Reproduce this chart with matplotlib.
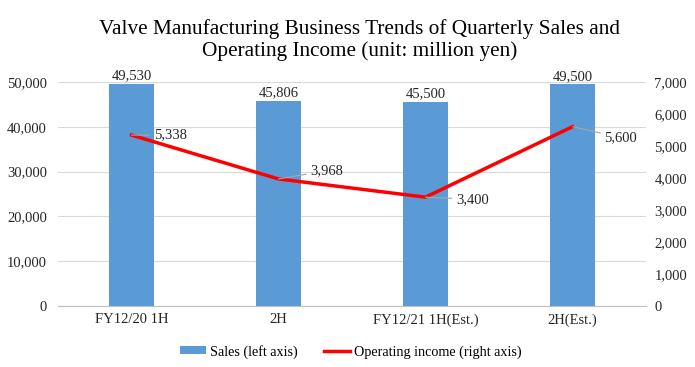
import matplotlib.pyplot as plt
import numpy as np

# data
periods = ["FY12/20 1H", "2H", "FY12/21 1H(Est.)", "2H(Est.)"]
sales = [49530, 45806, 45500, 49500]
op_income = [5338, 3968, 3400, 5600]
# label offsets (points) for operating income labels
inc_offsets = [(16, 0), (23, 6), (22, -1.5), (23, -8)]

plt.rcParams['font.family'] = ['Liberation Serif', 'DejaVu Serif']

fig = plt.figure(figsize=(6.95, 3.67), dpi=100)
ax = fig.add_axes([0.0835, 0.166, 0.846, 0.611])
ax2 = ax.twinx()

x = np.arange(len(periods))
bars = ax.bar(x, sales, width=0.31, color='#5B9BD5', zorder=2, label='Sales (left axis)')
ax.set_ylim(0, 50000)
ax.set_xlim(-0.5, len(periods) - 0.5)
ax.set_yticks(np.arange(0, 50001, 10000))
ax.set_yticklabels([f"{v:,}" for v in range(0, 50001, 10000)])
ax.set_xticks(x)
ax.set_xticklabels(periods)
ax.grid(axis='y', color='#D9D9D9', linewidth=0.8, zorder=0)
ax.set_axisbelow(True)
for s in ['top', 'right', 'left']:
    ax.spines[s].set_visible(False)
ax.spines['bottom'].set_color('#BFBFBF')
ax.tick_params(axis='both', length=0, labelsize=10.5, colors='#262626')
ax.tick_params(axis='y', pad=8)
ax.tick_params(axis='x', pad=5)

for xi, v in zip(x, sales):
    ax.annotate(f"{v:,}", (xi, v), xytext=(0, 1), textcoords='offset points',
                ha='center', va='bottom', fontsize=10.5, color='#262626')

line, = ax2.plot(x, op_income, color='#FF0000', linewidth=2.5, zorder=3,
                 label='Operating income (right axis)')
ax2.set_ylim(0, 7000)
ax2.set_yticks(np.arange(0, 7001, 1000))
ax2.set_yticklabels([f"{v:,}" for v in range(0, 7001, 1000)])
for s in ['top', 'right', 'left', 'bottom']:
    ax2.spines[s].set_visible(False)
ax2.tick_params(axis='y', length=0, labelsize=10.5, colors='#262626', pad=6)

for xi, v, off in zip(x, op_income, inc_offsets):
    ax2.annotate(f"{v:,}", (xi, v), xytext=off, textcoords='offset points',
                 ha='left', va='center', fontsize=10.5, color='#262626',
                 arrowprops=dict(arrowstyle='-', color='#A6A6A6', lw=0.8,
                                 shrinkA=1, shrinkB=0))

fig.suptitle("Valve Manufacturing Business Trends of Quarterly Sales and\nOperating Income (unit: million yen)",
             fontsize=15.3, x=0.517, y=0.948, linespacing=1.15)

fig.legend(handles=[bars, line], loc='lower center', bbox_to_anchor=(0.505, -0.012),
           ncol=2, frameon=False, fontsize=10.2, handlelength=1.8, columnspacing=1.9,
           handletextpad=0.3, handleheight=0.5)

fig.savefig('out.png', dpi=100)
